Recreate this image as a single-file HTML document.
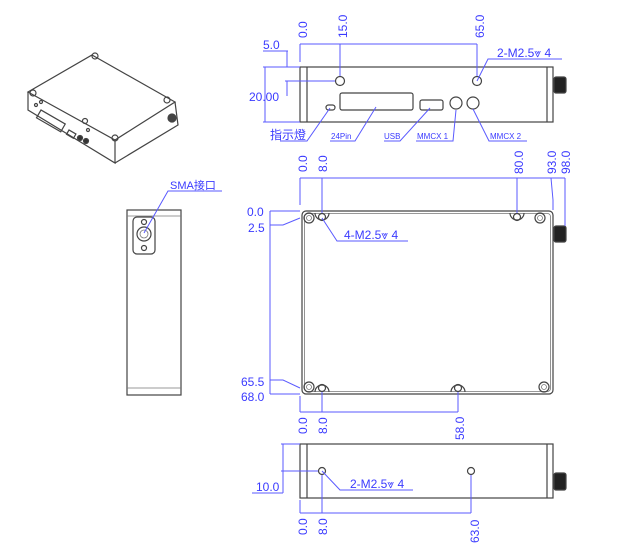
<!DOCTYPE html>
<html><head><meta charset="utf-8"><style>
body{margin:0;background:#fff}
svg{display:block}
text{font-family:"Liberation Sans","Noto Sans CJK SC",sans-serif;fill:#3a3aff}
.b{stroke:#5a5aff;stroke-width:1;fill:none}
.k{stroke:#444;stroke-width:1.2;fill:none}
.kt{stroke:#777;stroke-width:0.8;fill:none}
</style></head><body>
<svg width="625" height="551" viewBox="0 0 625 551" xmlns="http://www.w3.org/2000/svg">
<!-- iso view -->
<g class="k" stroke-width="1">
<polygon points="92,55 175,102 115,140 28,92" fill="#fff"/>
<polyline points="28,92 28,110 115,163 115,140"/>
<polyline points="115,163 178,125 175,102"/>
<rect x="41" y="110" width="28" height="9" transform="rotate(30 41 110)"/>
<rect x="69" y="130" width="8" height="5" transform="rotate(30 69 130)"/>
<circle cx="80" cy="138" r="2.5" fill="#333"/><circle cx="86" cy="141" r="2.5" fill="#333"/>
<circle cx="36" cy="105" r="1.5"/><circle cx="41" cy="102" r="1.5"/><circle cx="88" cy="130" r="1.5"/>
<circle cx="95" cy="56" r="3"/><circle cx="33" cy="93" r="3"/><circle cx="167" cy="100" r="3"/><circle cx="115" cy="138" r="3"/><circle cx="85" cy="121" r="2.5"/>
<circle cx="172" cy="118" r="4" fill="#444"/>
</g>
<!-- side view SMA -->
<g class="k">
<rect x="127" y="210" width="54" height="185"/>
<line x1="127" y1="216" x2="181" y2="216" class="kt"/>
<line x1="127" y1="388" x2="181" y2="388" class="kt"/>
<rect x="133" y="217" width="22" height="37" rx="4"/>
<circle cx="144" cy="234" r="7"/><circle cx="144" cy="234" r="4" class="kt"/>
<circle cx="144" cy="222" r="2.5"/><circle cx="144" cy="248" r="2.5"/>
</g>
<text x="170" y="189" font-size="11">SMA接口</text>
<polyline class="b" points="222,191 168,191 144,233"/>

<!-- top view -->
<g class="k">
<rect x="300" y="67" width="253" height="55"/>
<line x1="307" y1="67" x2="307" y2="122"/><line x1="547" y1="67" x2="547" y2="122"/>
<rect x="554" y="77" width="12" height="16" fill="#222" rx="2"/>
<circle cx="340" cy="81" r="4.5"/><circle cx="477" cy="81" r="4.5"/>
<rect x="326" y="105" width="9" height="5" rx="2.5"/>
<rect x="340" y="93" width="73" height="17" rx="2"/>
<rect x="420" y="100" width="23" height="10" rx="2"/>
<circle cx="456" cy="103" r="6"/><circle cx="473" cy="103" r="6"/>
</g>
<g class="b">
<line x1="300" y1="44" x2="477" y2="44"/><line x1="300" y1="44" x2="300" y2="62"/>
<line x1="340" y1="44" x2="340" y2="76"/><line x1="477" y1="44" x2="477" y2="76"/>
<line x1="263" y1="51" x2="288" y2="51"/><line x1="287" y1="51" x2="287" y2="67"/>
<line x1="287" y1="81" x2="287" y2="96"/><line x1="285" y1="81" x2="335" y2="81"/>
<line x1="263" y1="67" x2="300" y2="67"/><line x1="263" y1="122" x2="300" y2="122"/>
<line x1="265" y1="67" x2="265" y2="122"/>
<polyline points="562,59 488,59 477,81"/>
<polyline points="280,141 307,141 330,108"/>
<polyline points="330,141 355,141 376,107"/>
<polyline points="384,141 400,141 430,108"/>
<polyline points="416,141 453,141 456,110"/>
<polyline points="527,141 489,141 473,109"/>
</g>
<g font-size="12">
<text transform="translate(307,38) rotate(-90)">0.0</text>
<text transform="translate(347,38) rotate(-90)">15.0</text>
<text transform="translate(484,38) rotate(-90)">65.0</text>
<text x="263" y="49">5.0</text>
<text x="249" y="101">20.00</text>
<text x="497" y="57">2-M2.5⩔ 4</text>
<text x="270" y="139" font-size="12">指示燈</text>
<text x="331" y="139" font-size="8">24Pin</text>
<text x="384" y="139" font-size="8">USB</text>
<text x="417" y="139" font-size="8">MMCX 1</text>
<text x="490" y="139" font-size="8">MMCX 2</text>
</g>

<!-- plan view -->
<g class="k">
<rect x="302" y="211" width="251" height="183" rx="4"/>
<rect x="304.5" y="213.5" width="246" height="178" rx="3" class="kt"/>
<circle cx="309" cy="218" r="5"/><circle cx="309" cy="218" r="2.5" class="kt"/>
<circle cx="540" cy="218" r="5"/><circle cx="540" cy="218" r="2.5" class="kt"/>
<circle cx="309" cy="387" r="5"/><circle cx="309" cy="387" r="2.5" class="kt"/>
<circle cx="544" cy="387" r="5"/><circle cx="544" cy="387" r="2.5" class="kt"/>
<circle cx="322" cy="217" r="3.5"/><path d="M315,213 A7,7 0 1 0 329,213"/>
<circle cx="517" cy="217" r="3.5"/><path d="M510,213 A7,7 0 1 0 524,213"/>
<circle cx="322" cy="388" r="3.5"/><path d="M315,392 A7,7 0 1 1 329,392"/>
<circle cx="458" cy="388" r="3.5"/><path d="M451,392 A7,7 0 1 1 465,392"/>
<rect x="554" y="226" width="12" height="16" fill="#222" rx="2"/>
</g>
<g class="b">
<line x1="300" y1="178" x2="565" y2="178"/><line x1="300" y1="178" x2="300" y2="205"/>
<line x1="322" y1="178" x2="322" y2="213"/><line x1="517" y1="178" x2="517" y2="213"/>
<polyline points="551,178 553,200 553,210"/><line x1="565" y1="178" x2="565" y2="226"/>
<line x1="270" y1="211" x2="300" y2="211"/><line x1="270" y1="211" x2="270" y2="394"/>
<polyline points="270,225 283,225 300,218"/>
<polyline points="270,380 283,380 300,388"/>
<line x1="270" y1="394" x2="300" y2="394"/>
<polyline points="408,241 337,241 322,218"/>
<line x1="300" y1="396" x2="300" y2="412"/>
<line x1="300" y1="412" x2="458" y2="412"/>
<line x1="322" y1="392" x2="322" y2="412"/><line x1="458" y1="392" x2="458" y2="412"/>
</g>
<g font-size="12">
<text transform="translate(307,172) rotate(-90)">0.0</text>
<text transform="translate(327,172) rotate(-90)">8.0</text>
<text transform="translate(523,174) rotate(-90)">80.0</text>
<text transform="translate(556,174) rotate(-90)">93.0</text>
<text transform="translate(570,174) rotate(-90)">98.0</text>
<text x="247" y="216">0.0</text>
<text x="248" y="232">2.5</text>
<text x="241" y="386">65.5</text>
<text x="241" y="401">68.0</text>
<text x="344" y="239">4-M2.5⩔ 4</text>
<text transform="translate(307,434) rotate(-90)">0.0</text>
<text transform="translate(327,434) rotate(-90)">8.0</text>
<text transform="translate(464,440) rotate(-90)">58.0</text>
</g>

<!-- bottom view -->
<g class="k">
<rect x="300" y="444" width="253" height="54"/>
<line x1="307" y1="444" x2="307" y2="498"/><line x1="547" y1="444" x2="547" y2="498"/>
<circle cx="322" cy="471" r="3.5"/><circle cx="471" cy="471" r="3.5"/>
<rect x="554" y="473" width="12" height="17" fill="#222" rx="2"/>
</g>
<g class="b">
<line x1="281" y1="444" x2="300" y2="444"/><line x1="281" y1="471" x2="318" y2="471"/>
<line x1="283" y1="444" x2="283" y2="493"/><line x1="252" y1="493" x2="283" y2="493"/>
<polyline points="413,490 340,490 322,471"/>
<line x1="300" y1="500" x2="300" y2="513"/><line x1="300" y1="513" x2="471" y2="513"/>
<line x1="322" y1="475" x2="322" y2="513"/><line x1="471" y1="475" x2="471" y2="513"/>
</g>
<g font-size="12">
<text x="256" y="491">10.0</text>
<text x="350" y="488">2-M2.5⩔ 4</text>
<text transform="translate(307,535) rotate(-90)">0.0</text>
<text transform="translate(327,535) rotate(-90)">8.0</text>
<text transform="translate(479,543) rotate(-90)">63.0</text>
</g>
</svg>
</body></html>
